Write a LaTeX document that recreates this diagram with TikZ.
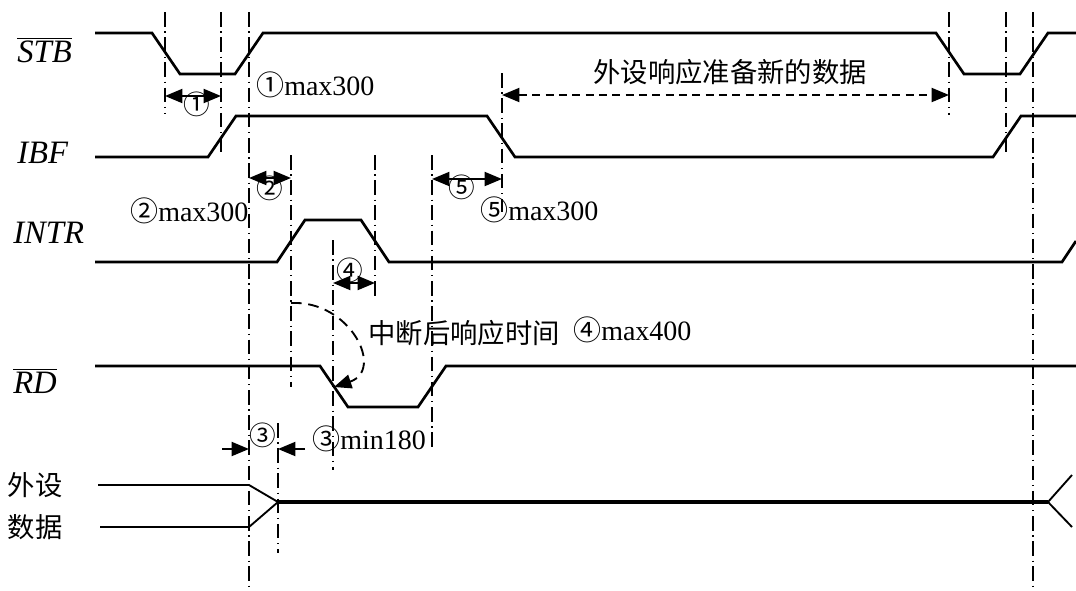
\documentclass[tikz,border=0pt]{standalone}
\usepackage{fontspec}
\setmainfont{Liberation Serif}
\newfontfamily\cjk{Noto Sans CJK SC}
\usetikzlibrary{arrows.meta}

\tikzset{
  wave/.style={line width=2pt, line join=miter},
  guide/.style={line width=1pt, dash pattern=on 11pt off 3.5pt on 0.9pt off 3.5pt},
  dim/.style={line width=1.4pt, {Triangle[length=13pt,width=10.5pt]}-{Triangle[length=13pt,width=10.5pt]}},
  tip/.style={line width=1.4pt, -{Triangle[length=13pt,width=10.5pt]}},
  sig/.style={font=\fontsize{24.5}{24.5}\selectfont\itshape, inner sep=0pt, anchor=base west},
  txt/.style={font=\fontsize{21}{21}\selectfont, inner sep=0pt, anchor=west},
  num/.style={font=\fontsize{20}{20}\selectfont\cjk, inner sep=0pt},
  zh/.style={font=\fontsize{20.5}{20.5}\selectfont\cjk, inner sep=0pt}
}
\newcommand{\cn}[1]{{\cjk #1}}

\begin{document}
\begin{tikzpicture}[x=0.75pt, y=-0.75pt]
\useasboundingbox (0,0) rectangle (1076,590);

% signal names
\node[sig] (stb) at (17,62) {$\overline{\hbox{\itshape STB}}$};
\node[sig] (ibf) at (17,163) {IBF};
\node[sig] (intr) at (13,243) {INTR};
\node[sig] (rd) at (13,393) {$\overline{\hbox{\itshape RD}}$};
\node[zh] (dev) at (35,485) {外设};
\node[zh] (dat) at (35,527) {数据};

% waveforms
\draw[wave] (95,33) -- (152,33) -- (180,74) -- (235,74) -- (263,33) -- (936,33) -- (964,74) -- (1020,74) -- (1048,33) -- (1076,33);
\draw[wave] (95,157) -- (208,157) -- (236,116) -- (487,116) -- (515,157) -- (993,157) -- (1021,116) -- (1076,116);
\draw[wave] (95,262) -- (277,262) -- (305,220) -- (361,220) -- (389,262) -- (1062,262) -- (1076,241);
\draw[wave] (95,366) -- (320,366) -- (348,407) -- (418,407) -- (446,366) -- (1076,366);
\draw[line width=1.4pt] (98,485) -- (249,485) -- (278,502);
\draw[line width=1.4pt] (100,527) -- (249,527) -- (278,502);
\draw[line width=3pt] (278,502) -- (1048,502);
\draw[line width=1.4pt] (1072,475) -- (1048,502) -- (1072,527);

% guide lines
\draw[guide] (165,12) -- (165,113);
\draw[guide] (221,12) -- (221,152);
\draw[guide] (249,12) -- (249,590);
\draw[guide] (291,155) -- (291,387);
\draw[guide] (333,240) -- (333,470);
\draw[guide] (375,155) -- (375,298);
\draw[guide] (432,155) -- (432,447);
\draw[guide] (502,73) -- (502,212);
\draw[guide] (278,423) -- (278,553);
\draw[guide] (949,12) -- (949,115);
\draw[guide] (1006,12) -- (1006,152);
\draw[guide] (1033,12) -- (1033,590);

% timing marks
\coordinate (t1a) at (165,96);
\coordinate (t1b) at (221,96);
\coordinate (t2a) at (249,178);
\coordinate (t2b) at (291,178);
\coordinate (t4a) at (333,283);
\coordinate (t4b) at (375,283);
\coordinate (t5a) at (432,179);
\coordinate (t5b) at (502,179);
\coordinate (nda) at (502,95);
\coordinate (ndb) at (949,95);
\coordinate (t3a) at (222,449);
\coordinate (t3b) at (249,449);
\coordinate (t3c) at (305,449);
\coordinate (t3d) at (278,449);
\coordinate (ackA) at (291,303);
\coordinate (ackB) at (334,387);

\draw[dim] (t1a) -- (t1b);
\draw[dim] (t2a) -- (t2b);
\draw[dim] (t4a) -- (t4b);
\draw[dim] (t5a) -- (t5b);
\draw[dim, dash pattern=on 6pt off 4pt] (nda) -- (ndb);
\draw[tip] (t3a) -- (t3b);
\draw[tip] (t3c) -- (t3d);
\draw[tip, dash pattern=on 8pt off 5pt] (ackA) .. controls (350,300) and (385,370) .. (ackB);

\node[num] (n1) at (197,104) {①};
\node[num] (n2) at (270,188) {②};
\node[num] (n3) at (263,435) {③};
\node[num] (n4) at (350,270) {④};
\node[num] (n5) at (462,187) {⑤};

% notes
\node[txt] (m1) at (256,85) {\cn{①}max300};
\node[txt] (m2) at (130,211) {\cn{②}max300};
\node[txt] (m5) at (480,210) {\cn{⑤}max300};
\node[txt] (m3) at (312,439) {\cn{③}min180};
\node[txt] (m4) at (573,330) {\cn{④}max400};
\node[zh] (prep) at (730,72) {外设响应准备新的数据};
\node[zh] (resp) at (464,333) {中断后响应时间};
\end{tikzpicture}
\end{document}
